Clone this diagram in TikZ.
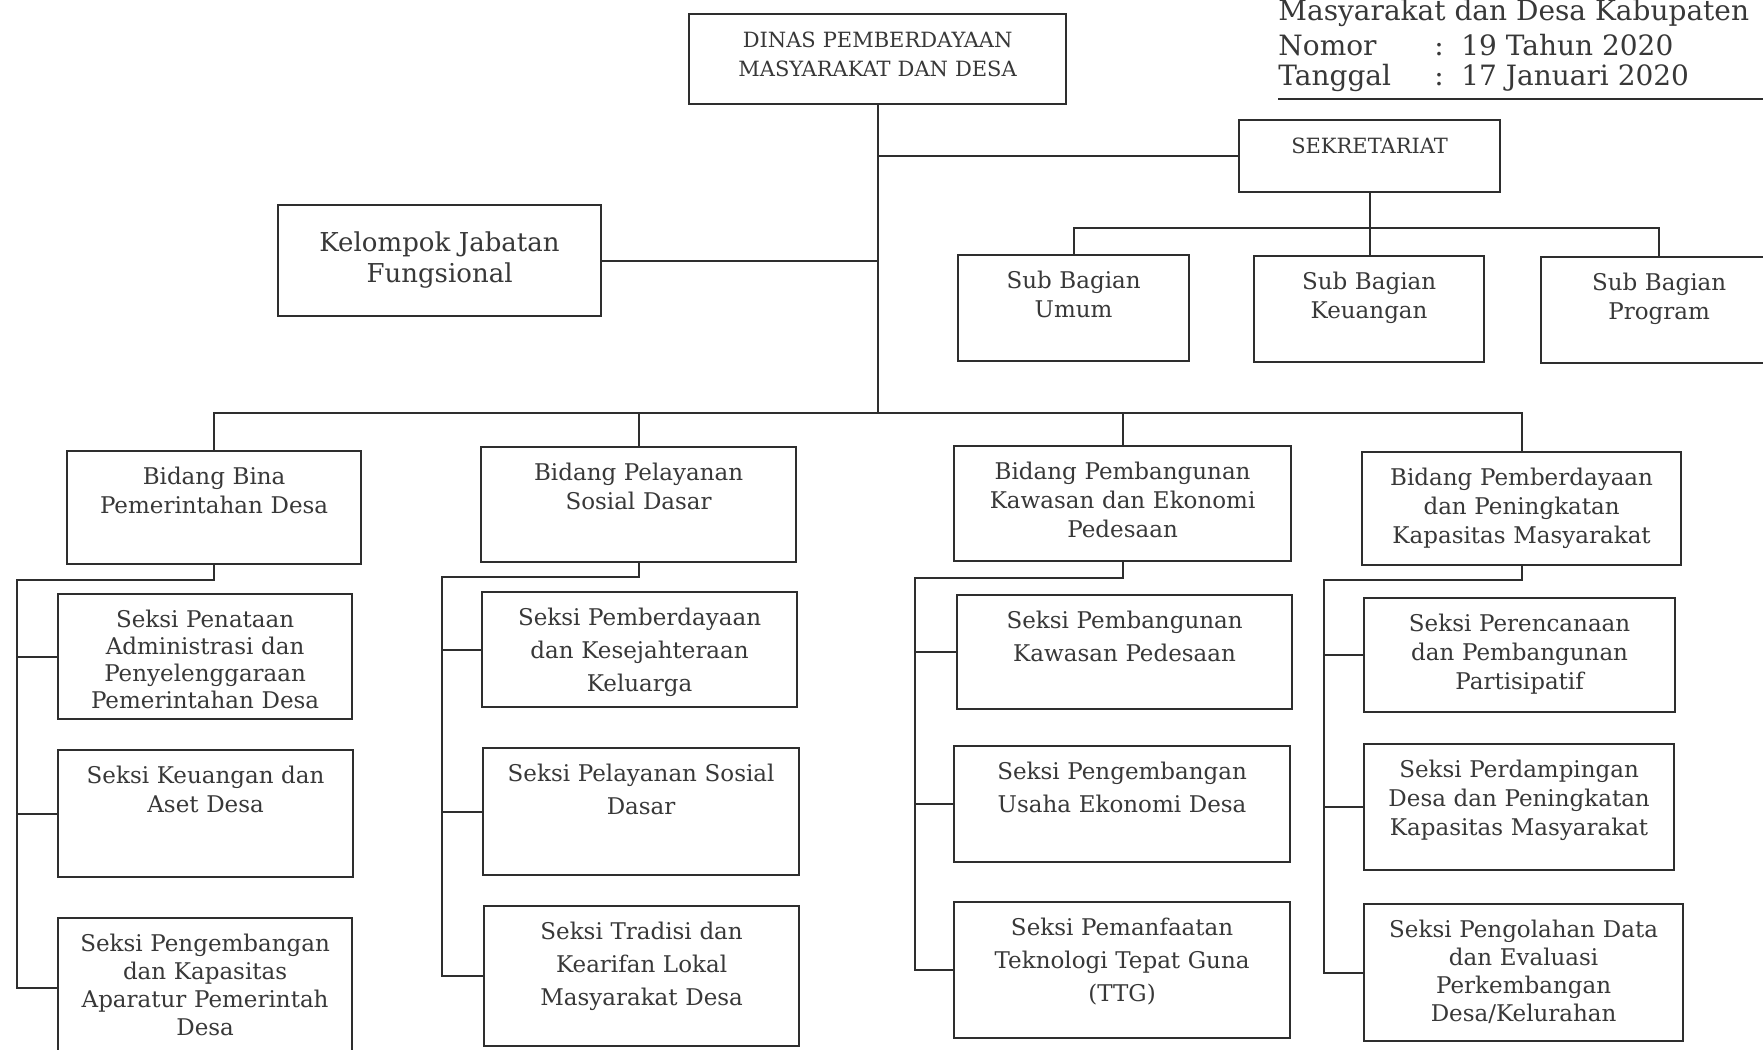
\documentclass[tikz,border=0pt]{standalone}
\usepackage{fontspec}
\setmainfont{DejaVu Serif}
\usepackage{tikz}
\definecolor{linegray}{HTML}{2E2E2E}
\definecolor{textgray}{HTML}{383838}
% box: [extra options]{name}{x1}{y1}{x2}{y2}{text}, corners in pixels, text hung from the top
\newcommand{\unitbox}[7][]{%
  \pgfmathsetmacro{\unitw}{(#5-#3)*0.5}%
  \pgfmathsetmacro{\unitd}{(#6-#4)*0.5-16.5}%
  \node[unit, text width=\unitw pt, text depth=\unitd pt, #1] (#2) at (#3,#4) {#7};}

\begin{document}
\begin{tikzpicture}[x=0.5pt, y=-0.5pt,
    unit/.style={draw=linegray, line width=1.1pt, anchor=north west, inner sep=0pt,
      align=center, text height=16.5pt, text=textgray,
      font=\fontsize{11.5}{14.5}\selectfont},
    airy/.style={font=\fontsize{11.5}{16.5}\selectfont},
    tight/.style={font=\fontsize{11.5}{13.5}\selectfont},
    caps/.style={font=\fontsize{10.5}{14.5}\selectfont},
    link/.style={draw=linegray, line width=0.9pt},
    head/.style={anchor=base west, inner sep=0pt, text=textgray,
      font=\fontsize{14}{16}\selectfont}]
    \useasboundingbox (0,0) rectangle (1763,1050);
    \clip (0,0) rectangle (1763,1050);
    \fill[white] (0,0) rectangle (1763,1050);

    % header
    \node[head] (judul) at (1278,20) {Masyarakat dan Desa Kabupaten};
    \node[head] (nomor) at (1278,55) {Nomor};
    \node[head] (nomorsep) at (1434,55) {:};
    \node[head] (nomorval) at (1461,55) {19 Tahun 2020};
    \node[head] (tanggal) at (1278,85) {Tanggal};
    \node[head] (tanggalsep) at (1434,85) {:};
    \node[head] (tanggalval) at (1461,85) {17 Januari 2020};
    \coordinate (garisL) at (1278,99);
    \coordinate (garisR) at (1763,99);
    \draw[link, line width=1.1pt] (garisL) -- (garisR);

    % pimpinan
    \unitbox[caps]{dinas}{688}{13}{1065}{103}{DINAS PEMBERDAYAAN\\MASYARAKAT DAN DESA}
    \unitbox[caps]{sekretariat}{1238}{119}{1499}{191}{SEKRETARIAT}
    \unitbox[font=\fontsize{13}{15.5}\selectfont, text height=23pt, text depth=32.5pt]{fungsional}{277}{204}{600}{315}{Kelompok Jabatan\\Fungsional}
    % sub bagian
    \unitbox{umum}{957}{254}{1188}{360}{Sub Bagian\\Umum}
    \unitbox{keuangan}{1253}{255}{1483}{361}{Sub Bagian\\Keuangan}
    \unitbox{program}{1540}{256}{1776}{362}{Sub Bagian\\Program}
    % bidang
    \unitbox{bina}{66}{450}{360}{563}{Bidang Bina\\Pemerintahan Desa}
    \unitbox{pelayanan}{480}{446}{795}{561}{Bidang Pelayanan\\Sosial Dasar}
    \unitbox{pembangunan}{953}{445}{1290}{560}{Bidang Pembangunan\\Kawasan dan Ekonomi\\Pedesaan}
    \unitbox{pemberdayaan}{1361}{451}{1680}{564}{Bidang Pemberdayaan\\dan Peningkatan\\Kapasitas Masyarakat}
    % seksi bidang 1
    \unitbox[tight]{penataan}{57}{593}{351}{718}{Seksi Penataan\\Administrasi dan\\Penyelenggaraan\\Pemerintahan Desa}
    \unitbox{aset}{57}{749}{352}{876}{Seksi Keuangan dan\\Aset Desa}
    \unitbox[font=\fontsize{11.5}{14}\selectfont]{aparatur}{57}{917}{351}{1057}{Seksi Pengembangan\\dan Kapasitas\\Aparatur Pemerintah\\Desa}
    % seksi bidang 2
    \unitbox[airy]{keluarga}{481}{591}{796}{706}{Seksi Pemberdayaan\\dan Kesejahteraan\\Keluarga}
    \unitbox[airy]{sosdas}{482}{747}{798}{874}{Seksi Pelayanan Sosial\\Dasar}
    \unitbox[airy]{tradisi}{483}{905}{798}{1045}{Seksi Tradisi dan\\Kearifan Lokal\\Masyarakat Desa}
    % seksi bidang 3
    \unitbox[airy]{kawasan}{956}{594}{1291}{708}{Seksi Pembangunan\\Kawasan Pedesaan}
    \unitbox[airy]{usaha}{953}{745}{1289}{861}{Seksi Pengembangan\\Usaha Ekonomi Desa}
    \unitbox[airy]{ttg}{953}{901}{1289}{1037}{Seksi Pemanfaatan\\Teknologi Tepat Guna\\(TTG)}
    % seksi bidang 4
    \unitbox{partisipatif}{1363}{597}{1674}{711}{Seksi Perencanaan\\dan Pembangunan\\Partisipatif}
    \unitbox{pendampingan}{1363}{743}{1673}{869}{Seksi Perdampingan\\Desa dan Peningkatan\\Kapasitas Masyarakat}
    \unitbox[font=\fontsize{11.5}{14}\selectfont]{pengolahan}{1363}{903}{1682}{1040}{Seksi Pengolahan Data\\dan Evaluasi\\Perkembangan\\Desa/Kelurahan}

    % garis komando
    \coordinate (bus) at (877,413);
    \coordinate (subbus) at (1368,228);
    \draw[link] (dinas.south) -- (dinas.south |- bus);
    \draw[link] (sekretariat.west) -- (sekretariat.west -| bus);
    \draw[link] (fungsional.east) -- (fungsional.east -| bus);
    \draw[link] (sekretariat.south) -- (sekretariat.south |- keuangan.north);
    \draw[link] (umum.north) |- (subbus) -| (program.north);
    \draw[link] (bina.north) |- (bus) -| (pemberdayaan.north);
    \draw[link] (pelayanan.north) -- (pelayanan.north |- bus);
    \draw[link] (pembangunan.north) -- (pembangunan.north |- bus);
    % bidang 1
    \coordinate (railbina) at (17,580);
    \draw[link] (bina.south) |- (railbina) |- (aparatur.west);
    \draw[link] (railbina) |- (penataan.west);
    \draw[link] (railbina) |- (aset.west);
    % bidang 2
    \coordinate (railpelayanan) at (442,577);
    \draw[link] (pelayanan.south) |- (railpelayanan) |- (tradisi.west);
    \draw[link] (railpelayanan) |- (keluarga.west);
    \draw[link] (railpelayanan) |- (sosdas.west);
    % bidang 3
    \coordinate (railpembangunan) at (915,578);
    \draw[link] (pembangunan.south) |- (railpembangunan) |- (ttg.west);
    \draw[link] (railpembangunan) |- (kawasan.west);
    \draw[link] (railpembangunan) |- (usaha.west);
    % bidang 4
    \coordinate (railpemberdayaan) at (1324,580);
    \draw[link] (pemberdayaan.south) |- (railpemberdayaan) |- (pengolahan.west);
    \draw[link] (railpemberdayaan) |- (partisipatif.west);
    \draw[link] (railpemberdayaan) |- (pendampingan.west);
\end{tikzpicture}
\end{document}
